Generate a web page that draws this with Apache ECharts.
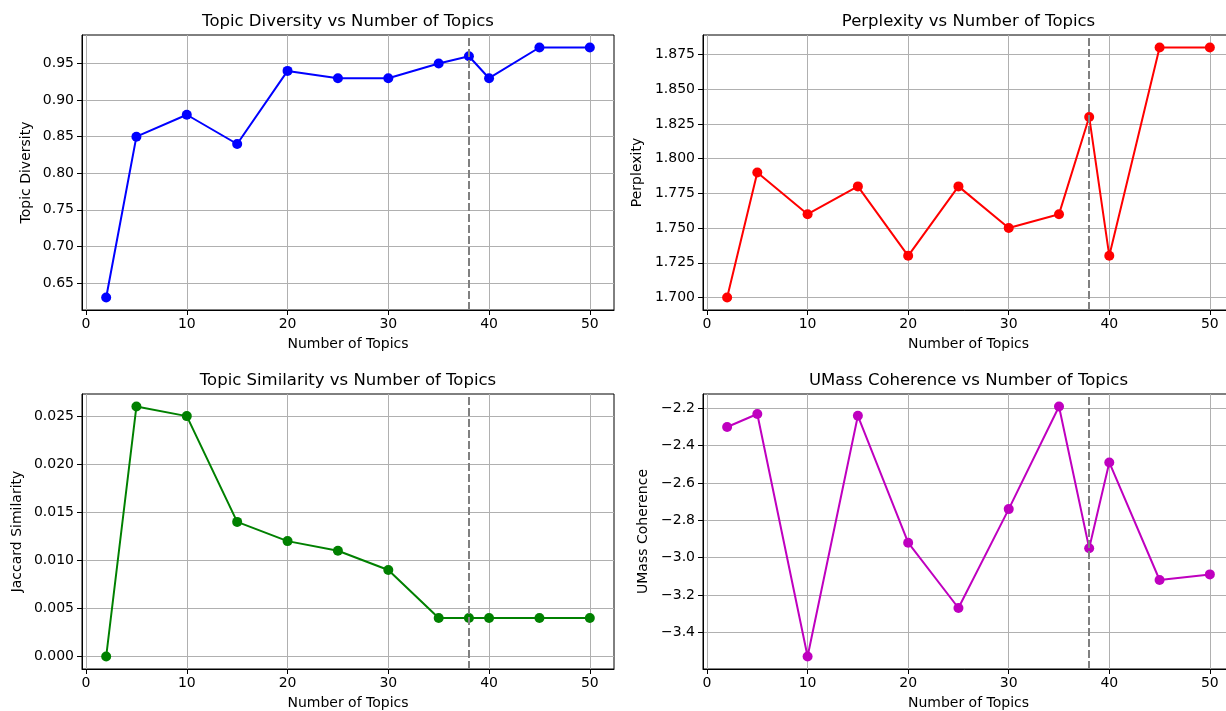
<!DOCTYPE html>
<html>
<head>
<meta charset="utf-8">
<script src="https://cdn.jsdelivr.net/npm/echarts@6/dist/echarts.min.js"></script>
<style>
  html, body { margin: 0; padding: 0; background: #ffffff; }
  #chart { width: 1226px; height: 711px; }
</style>
</head>
<body>
<div id="chart"></div>
<script>
// Evaluation results per number of topics
const numTopics = [2, 5, 10, 15, 20, 25, 30, 35, 38, 40, 45, 50];
const topicDiversity = [0.63, 0.85, 0.88, 0.84, 0.94, 0.93, 0.93, 0.95, 0.96, 0.93, 0.972, 0.972];
const perplexity = [1.70, 1.79, 1.76, 1.78, 1.73, 1.78, 1.75, 1.76, 1.83, 1.73, 1.88, 1.88];
const jaccardSimilarity = [0.000, 0.026, 0.025, 0.014, 0.012, 0.011, 0.009, 0.004, 0.004, 0.004, 0.004, 0.004];
const umassCoherence = [-2.30, -2.23, -3.53, -2.24, -2.92, -3.27, -2.74, -2.19, -2.95, -2.49, -3.12, -3.09];
const bestTopics = 38;

// Tick positions
const xTicks = [0, 10, 20, 30, 40, 50];
const diversityTicks = [0.65, 0.70, 0.75, 0.80, 0.85, 0.90, 0.95];
const perplexityTicks = [1.700, 1.725, 1.750, 1.775, 1.800, 1.825, 1.850, 1.875];
const jaccardTicks = [0.000, 0.005, 0.010, 0.015, 0.020, 0.025];
const umassTicks = [-3.4, -3.2, -3.0, -2.8, -2.6, -2.4, -2.2];

const FONT = 'DejaVu Sans';

const panels = [
  { title: 'Topic Diversity vs Number of Topics', yName: 'Topic Diversity', values: topicDiversity,
    ticks: diversityTicks, decimals: 2, color: '#0000ff', box: [82, 35, 532, 275], yGap: 49 },
  { title: 'Perplexity vs Number of Topics', yName: 'Perplexity', values: perplexity,
    ticks: perplexityTicks, decimals: 3, color: '#ff0000', box: [703, 35, 531, 275], yGap: 59 },
  { title: 'Topic Similarity vs Number of Topics', yName: 'Jaccard Similarity', values: jaccardSimilarity,
    ticks: jaccardTicks, decimals: 3, color: '#008000', box: [82, 394, 532, 275], yGap: 58 },
  { title: 'UMass Coherence vs Number of Topics', yName: 'UMass Coherence', values: umassCoherence,
    ticks: umassTicks, decimals: 1, color: '#bf00bf', box: [703, 394, 531, 275], yGap: 53 }
];

// matplotlib-style 5% data margins
function padded(arr) {
  const lo = Math.min(...arr), hi = Math.max(...arr);
  const p = (hi - lo) * 0.05;
  return [lo - p, hi + p];
}
const xRange = padded(numTopics);

function fmt(v, d) {
  const s = Math.abs(v).toFixed(d);
  return v < 0 ? '\u2212' + s : s;
}

const grid = [], xAxis = [], yAxis = [], series = [], title = [];

panels.forEach((p, i) => {
  const [left, top, width, height] = p.box;
  grid.push({
    left, top, width, height, outerBoundsMode: 'none', containLabel: false,
    show: true, borderColor: '#000', borderWidth: 1, backgroundColor: 'transparent'
  });
  title.push({
    text: p.title, left: left + width / 2, top: top - 22, textAlign: 'center', padding: 0,
    textStyle: { fontFamily: FONT, fontSize: 16.5, fontWeight: 'normal', color: '#000' }
  });
  xAxis.push({
    gridIndex: i, type: 'value', min: xRange[0], max: xRange[1],
    name: 'Number of Topics', nameLocation: 'middle', nameGap: 27,
    nameTextStyle: { fontFamily: FONT, fontSize: 14, color: '#000' },
    axisLine: { show: true, onZero: false, lineStyle: { color: '#000', width: 1 } },
    axisTick: { show: true, inside: false, length: 5, customValues: xTicks, lineStyle: { color: '#000', width: 1 } },
    axisLabel: { customValues: xTicks, margin: 7, fontFamily: FONT, fontSize: 14, color: '#000', formatter: v => String(v) },
    splitLine: { show: true, lineStyle: { color: '#b0b0b0', width: 1 } }
  });
  const yr = padded(p.values);
  yAxis.push({
    gridIndex: i, type: 'value', min: yr[0], max: yr[1],
    name: p.yName, nameLocation: 'middle', nameGap: p.yGap, nameRotate: 90,
    nameTextStyle: { fontFamily: FONT, fontSize: 14, color: '#000' },
    axisLine: { show: true, onZero: false, lineStyle: { color: '#000', width: 1 } },
    axisTick: { show: true, inside: false, length: 5, customValues: p.ticks, lineStyle: { color: '#000', width: 1 } },
    axisLabel: { customValues: p.ticks, margin: 8, fontFamily: FONT, fontSize: 14, color: '#000', formatter: v => fmt(v, p.decimals) },
    splitLine: { show: true, lineStyle: { color: '#b0b0b0', width: 1 } }
  });
  series.push({
    type: 'line', xAxisIndex: i, yAxisIndex: i,
    data: numTopics.map((x, k) => [x, p.values[k]]),
    symbol: 'circle', symbolSize: 10, showSymbol: true,
    lineStyle: { color: p.color, width: 2 },
    itemStyle: { color: p.color },
    emphasis: { disabled: true },
    markLine: {
      silent: true, symbol: 'none', label: { show: false },
      lineStyle: { color: '#808080', type: [8, 3], width: 2 },
      data: [{ xAxis: bestTopics }]
    }
  });
});

const chart = echarts.init(document.getElementById('chart'), null, { renderer: 'canvas' });
chart.setOption({
  backgroundColor: '#ffffff',
  animation: false,
  title, grid, xAxis, yAxis, series
});
</script>
</body>
</html>
